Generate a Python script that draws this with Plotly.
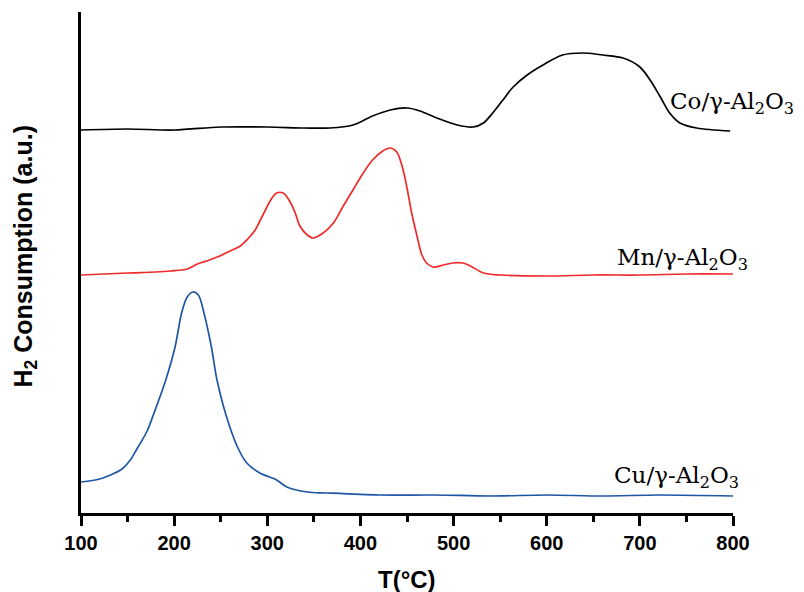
import plotly.graph_objects as go

# Cu/γ-Al2O3 (blue)
cu_T = [100, 120, 134, 144, 153, 160, 171, 178, 191, 201, 208, 214, 220, 226, 232, 240, 246, 255, 268, 278, 292, 310, 321, 343, 364, 420, 480, 540, 600, 660, 720, 800]
cu_H = [31, 34, 39, 44, 53, 64, 82, 99, 133, 166, 200, 216, 221, 218, 200, 166, 133, 100, 66, 50, 40, 33, 26, 21, 20, 18, 18, 17, 18, 17, 18, 17]

# Mn/γ-Al2O3 (red)
mn_T = [100, 150, 180, 196, 214, 225, 238, 249, 260, 271, 279, 287, 292, 298, 303, 310, 317, 324, 330, 335, 343, 349, 360, 371, 381, 392, 403, 413, 424, 432, 439, 445, 450, 455, 461, 466, 471, 478, 489, 499, 510, 518, 532, 550, 600, 650, 700, 750, 800]
mn_H = [238, 240, 241, 242, 244, 249, 253, 257, 262, 267, 274, 283, 292, 303, 312, 320, 320, 312, 300, 287, 278, 275, 280, 290, 306, 323, 340, 353, 362, 365, 361, 346, 325, 300, 276, 258, 250, 246, 248, 250, 250, 247, 240, 238, 237, 238, 238, 239, 239]

# Co/γ-Al2O3 (black)
co_T = [100, 150, 200, 250, 300, 340, 367, 392, 413, 432, 450, 464, 482, 504, 521, 532, 542, 553, 564, 579, 596, 617, 639, 660, 682, 700, 711, 722, 732, 743, 761, 797]
co_H = [383, 384, 383, 386, 386, 385, 385, 388, 397, 403, 405, 402, 395, 388, 386, 390, 400, 413, 426, 438, 448, 458, 460, 458, 455, 446, 433, 416, 400, 390, 385, 382]

labels = ["Co/γ-Al<sub>2</sub>O<sub>3</sub>", "Mn/γ-Al<sub>2</sub>O<sub>3</sub>", "Cu/γ-Al<sub>2</sub>O<sub>3</sub>"]
label_T = [730, 673, 670]
label_H = [410, 254, 36]

x_ticks = [100, 200, 300, 400, 500, 600, 700, 800]

fig = go.Figure()
fig.add_trace(go.Scatter(x=co_T, y=co_H, mode="lines", line=dict(color="#000000", width=1.7, shape="spline", smoothing=0.9)))
fig.add_trace(go.Scatter(x=mn_T, y=mn_H, mode="lines", line=dict(color="#ee2a2a", width=1.7, shape="spline", smoothing=0.9)))
fig.add_trace(go.Scatter(x=cu_T, y=cu_H, mode="lines", line=dict(color="#1f56a6", width=1.7, shape="spline", smoothing=0.9)))

for txt, tx, ty in zip(labels, label_T, label_H):
    fig.add_annotation(x=tx, y=ty, xref="x", yref="y", text=txt, showarrow=False,
                       xanchor="left", yanchor="middle",
                       font=dict(family="DejaVu Serif", size=23, color="#000000"))

fig.add_annotation(x=-56/652, y=0.512, xref="paper", yref="paper", text="H<sub>2</sub> Consumption (a.u.)",
                   showarrow=False, textangle=-90, xanchor="center", yanchor="middle",
                   font=dict(family="Liberation Sans", size=25, color="#000000", weight="bold"))
fig.add_annotation(x=0.5, y=-66/501, xref="paper", yref="paper", text="T(°C)",
                   showarrow=False, xanchor="center", yanchor="middle",
                   font=dict(family="Liberation Sans", size=24, color="#000000", weight="bold"))

fig.update_layout(
    width=804, height=592,
    margin=dict(l=81, r=71, t=12, b=79),
    paper_bgcolor="white", plot_bgcolor="white",
    showlegend=False,
    xaxis=dict(range=[100, 800], tickvals=x_ticks, ticktext=[str(v) for v in x_ticks],
               showgrid=False, zeroline=False, showline=True, linecolor="black", linewidth=3,
               ticks="outside", ticklen=10, tickwidth=3, tickcolor="black",
               minor=dict(dtick=50, tick0=100, ticks="outside", ticklen=6, tickwidth=3, tickcolor="black"),
               tickfont=dict(family="Liberation Sans", size=20, color="black", weight="bold")),
    yaxis=dict(range=[0, 501], showgrid=False, zeroline=False, showline=True, linecolor="black", linewidth=3,
               showticklabels=False, ticks=""),
)

fig.write_html("out.html")
